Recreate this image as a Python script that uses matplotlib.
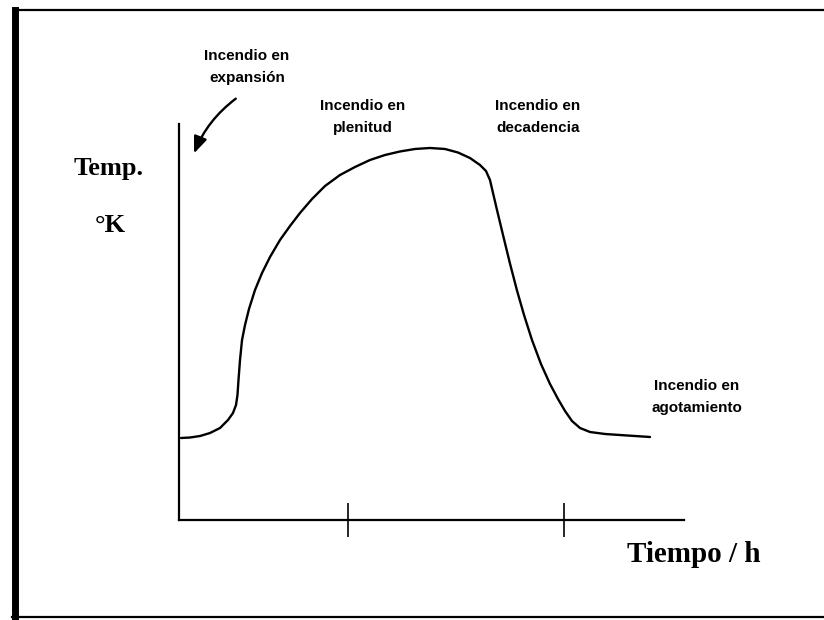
import matplotlib
matplotlib.use("Agg")
import matplotlib.pyplot as plt
from matplotlib.lines import Line2D

# Data (time in h, temperature in arbitrary units)
time_h = [0.040, 0.218, 0.416, 0.614, 0.812, 0.970, 1.069, 1.129, 1.158, 1.178,
          1.208, 1.248, 1.307, 1.386, 1.505, 1.644, 1.802, 2.000, 2.198, 2.396,
          2.634, 2.891, 3.188, 3.485, 3.782, 4.079, 4.376, 4.673, 4.970, 5.267,
          5.525, 5.762, 5.960, 6.079, 6.158, 6.218, 6.297, 6.416, 6.554, 6.693,
          6.832, 6.990, 7.168, 7.347, 7.505, 7.644, 7.782, 7.941, 8.139, 8.436,
          8.733, 9.030, 9.327]
temp = [2.071, 2.083, 2.121, 2.197, 2.323, 2.525, 2.702, 2.904, 3.157, 3.535,
        4.040, 4.545, 4.924, 5.328, 5.808, 6.237, 6.641, 7.071, 7.424, 7.753,
        8.106, 8.434, 8.712, 8.914, 9.091, 9.217, 9.306, 9.369, 9.394, 9.369,
        9.280, 9.141, 8.965, 8.813, 8.586, 8.258, 7.828, 7.197, 6.477, 5.795,
        5.177, 4.545, 3.939, 3.434, 3.056, 2.753, 2.500, 2.323, 2.222, 2.172,
        2.146, 2.121, 2.096]
tick_times = [3.35, 7.62]
x_max = 10.0
y_max = 10.0

phase_labels = ["Incendio en\nexpansión", "Incendio en\nplenitud",
                "Incendio en\ndecadencia", "Incendio en\nagotamiento"]
y_label_1 = "Temp."
y_label_2 = "°K"
x_label = "Tiempo / h"

W, H = 824, 620
fig = plt.figure(figsize=(W / 100, H / 100), dpi=100)

def px(x, y):
    return (x / W, 1 - y / H)

# scanned page frame
fig.add_artist(Line2D([15 / W, 15 / W], [1 - 10 / H, 1 - 618 / H], color="black", lw=5.0))
fig.add_artist(Line2D([15 / W, 1.0], [1 - 10 / H, 1 - 10 / H], color="black", lw=1.6))
fig.add_artist(Line2D([12 / W, 1.0], [1 - 617 / H, 1 - 617 / H], color="black", lw=1.6))

ax = fig.add_axes([179 / W, 1 - 520 / H, 505 / W, 396 / H])
ax.plot(time_h, temp, color="black", lw=1.7, solid_capstyle="round",
        solid_joinstyle="round")
ax.set_xlim(0, x_max)
ax.set_ylim(0, y_max)
for s in ["top", "right"]:
    ax.spines[s].set_visible(False)
for s in ["left", "bottom"]:
    ax.spines[s].set_linewidth(1.6)
ax.set_xticks(tick_times)
ax.set_xticklabels([])
ax.set_yticks([])
ax.tick_params(axis="x", direction="inout", length=24, width=1.2)

lab_font = dict(family=["Liberation Sans Narrow", "Liberation Sans", "DejaVu Sans"],
                weight="bold", fontsize=11, color="black", linespacing=1.75)
fig.text(*px(247, 67), phase_labels[0], ha="center", va="center", **lab_font)
fig.text(*px(363, 117), phase_labels[1], ha="center", va="center", **lab_font)
fig.text(*px(538, 117), phase_labels[2], ha="center", va="center", **lab_font)
fig.text(*px(697, 397), phase_labels[3], ha="center", va="center", **lab_font)

serif = dict(family=["Liberation Serif", "DejaVu Serif"], weight="bold", color="black")
fig.text(*px(109, 169), y_label_1, ha="center", va="center", fontsize=19, **serif)
fig.text(*px(110, 226), y_label_2, ha="center", va="center", fontsize=19, **serif)
fig.text(*px(694, 554), x_label, ha="center", va="center", fontsize=21, **serif)

# arrow for "expansión"
ax.annotate("", xy=px(193, 156), xycoords="figure fraction",
            xytext=px(238, 97), textcoords="figure fraction",
            arrowprops=dict(arrowstyle="-|>,head_length=1.0,head_width=0.4",
                            color="black", lw=1.7,
                            connectionstyle="arc3,rad=0.15"),
            annotation_clip=False)

fig.savefig("out.png", dpi=100)
